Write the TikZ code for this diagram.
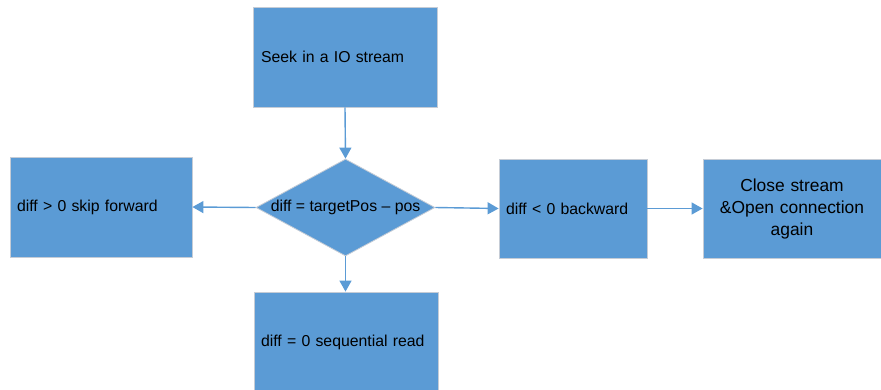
\documentclass[tikz,border=0pt]{standalone}
\usepackage{fontspec}
\setmainfont{Liberation Sans}
\usetikzlibrary{shapes.geometric,arrows.meta,shadows}
\definecolor{boxblue}{HTML}{5B9BD5}
\definecolor{boxedge}{HTML}{C5CCD6}
\begin{document}
\begin{tikzpicture}[x=1pt,y=-1pt,
  every node/.style={font=\fontsize{15.8}{22}\selectfont, text=black},
  blk/.style={rectangle, fill=boxblue, draw=boxedge, line width=0.8pt,
    inner sep=0pt, drop shadow={shadow xshift=1.2pt, shadow yshift=-1.2pt, opacity=0.25, fill=gray}},
  dia/.style={diamond, fill=boxblue, draw=boxedge, line width=0.8pt, inner sep=0pt,
    minimum width=179pt, minimum height=97pt},
  conn/.style={draw=boxblue, line width=1.4pt, -{Triangle[length=11pt,width=12pt]}}]
\useasboundingbox (0,0) rectangle (881,389);
\clip (0,0) rectangle (881,389);
% boxes
\node[blk, minimum width=184pt, minimum height=100pt, text width=168pt, align=left, inner xsep=8pt] (seek) at (345,57) {Seek in a IO stream};
\node[dia] (d) at (345.5,207.5) {\makebox[0pt]{diff = targetPos – pos}};
\node[blk, minimum width=182pt, minimum height=100pt, text width=168pt, align=left, inner xsep=7pt] (fwd) at (101,207) {diff > 0 skip forward};
\node[blk, minimum width=148pt, minimum height=99pt, text width=134pt, align=left, inner xsep=7pt] (bwd) at (573,208.5) {diff < 0 backward};
\node[blk, minimum width=178pt, minimum height=99pt, text width=170pt, align=center, font=\fontsize{17.4}{22}\selectfont] (close) at (792,208.5) {Close stream\\\&Open connection\\again};
\node[blk, minimum width=184pt, minimum height=100pt, text width=170pt, align=left, inner xsep=7pt] (seq) at (346,342) {diff = 0 sequential read};
% connectors
\draw[conn] (seek.south) -- (d.north);
\draw[conn] (d.west) -- (fwd.east);
\draw[conn] (d.east) -- (bwd.west);
\draw[conn] (bwd.east) -- (close.west);
\draw[conn] (d.south) -- (d.south |- seq.north);
\end{tikzpicture}
\end{document}
